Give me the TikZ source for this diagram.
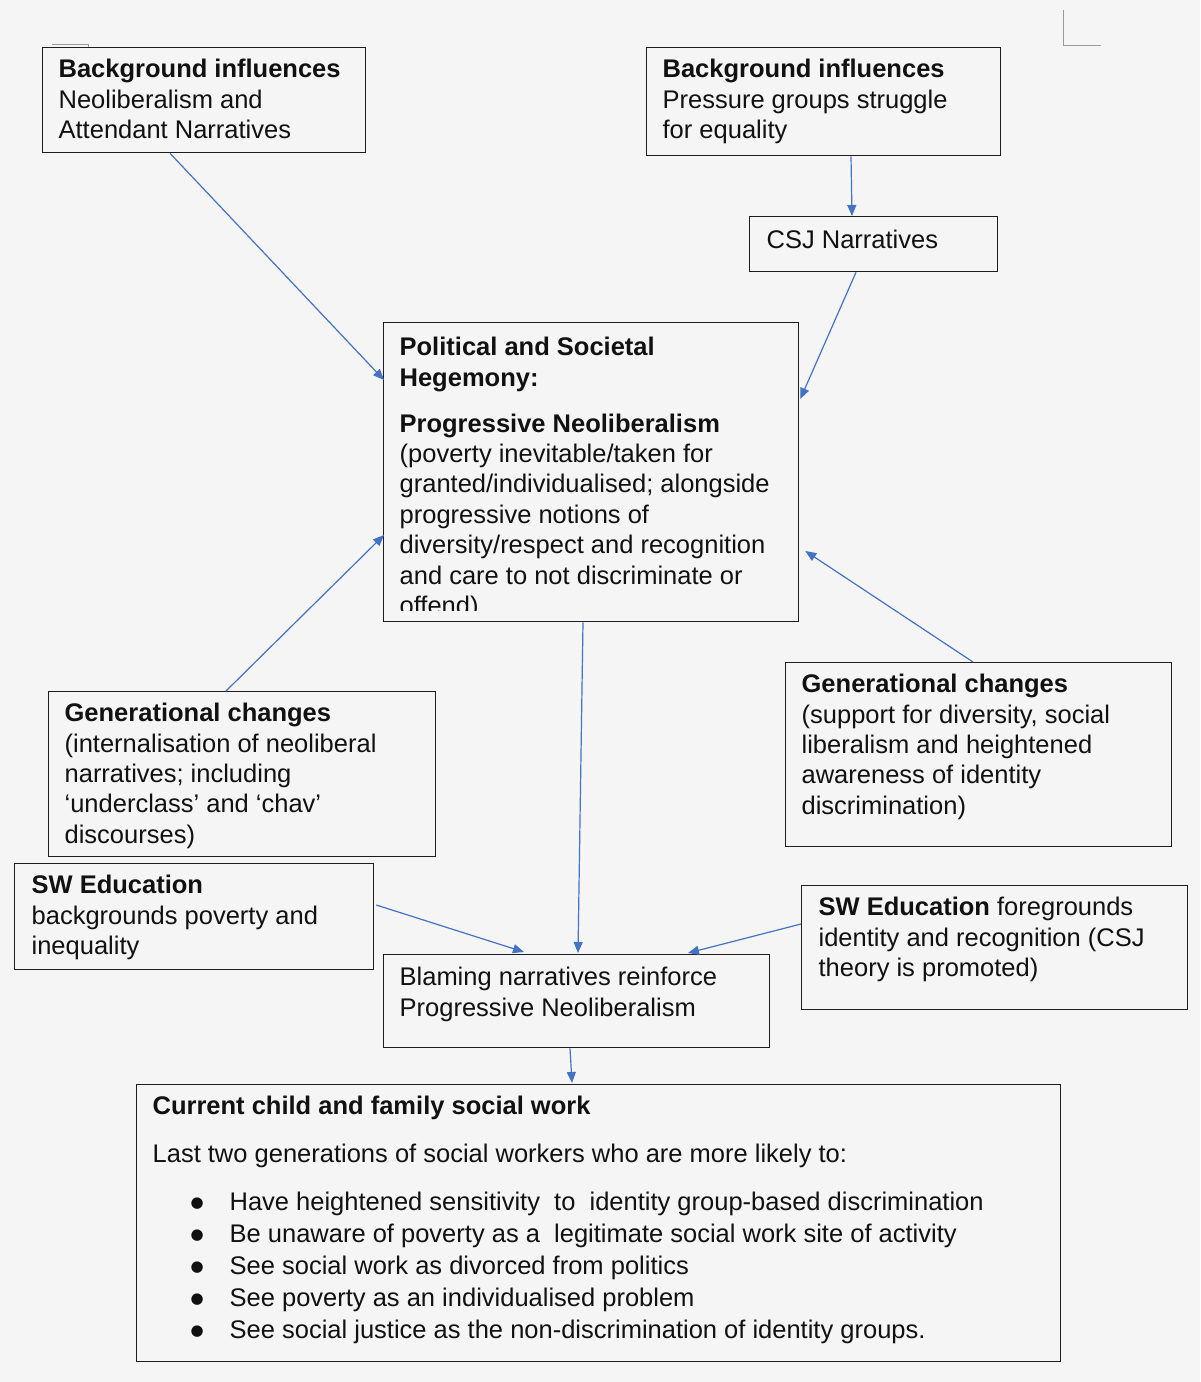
\documentclass[tikz,border=0pt]{standalone}
\usepackage{fontspec}
\setmainfont{Liberation Sans}
\newfontfamily\symfont{DejaVu Sans}
\usetikzlibrary{arrows.meta}
\definecolor{bgc}{HTML}{F5F5F5}
\definecolor{boxc}{HTML}{1E1E1E}
\definecolor{arrc}{HTML}{4472C4}
\definecolor{txtc}{HTML}{111111}
\definecolor{markc}{HTML}{9A9A9A}
\newcommand{\boxtxt}[4]{\parbox[t][#2][t]{#1}{\raggedright\vspace*{#3}\noindent\strut#4}}
\newcommand{\bul}{\hspace*{38pt}\makebox[39pt][l]{\raisebox{3pt}{\symfont\fontsize{15}{18}\selectfont ●}}}
\begin{document}
\begin{tikzpicture}[x=1pt,y=-1pt,
  box/.style={draw=boxc, line width=1.3pt, anchor=north west, inner xsep=16pt, inner ysep=0pt, text=txtc, font=\fontsize{25.5}{30.4}\selectfont},
  conn/.style={draw=arrc, line width=1.2pt, -{Triangle[length=11pt,width=9pt]}}]
\useasboundingbox (0,0) rectangle (1200,1382);
\fill[bgc] (0,0) rectangle (1200,1382);
% faint page marks
\draw[markc, line width=0.8pt] (52,44.5) -- (88,44.5) -- (88,47);
\draw[markc, line width=1pt] (1063,10) -- (1063,45) -- (1101,45);

\node[box] (bg1) at (42,47) {\boxtxt{291pt}{105pt}{8.7pt}{\textbf{Background influences}\\Neoliberalism and\\Attendant Narratives}};
\node[box] (bg2) at (646,47) {\boxtxt{322pt}{108pt}{8.7pt}{\textbf{Background influences}\\Pressure groups struggle\\for equality}};
\node[box, inner xsep=17pt] (csj) at (749,216) {\boxtxt{214pt}{55pt}{10.7pt}{CSJ Narratives}};
\node[box] (heg) at (383,322) {\boxtxt{383pt}{299pt}{11.7pt}{\textbf{Political and Societal}\\\textbf{Hegemony:}\\[15.6pt]\textbf{Progressive Neoliberalism}\\(poverty inevitable/taken for\\granted/individualised; alongside\\progressive notions of\\diversity/respect and recognition\\and care to not discriminate or\\offend)}};
\fill[bgc] (384.5,611) rectangle (796.5,620);
\node[box] (genl) at (48,691) {\boxtxt{355pt}{165pt}{8.7pt}{\textbf{Generational changes}\\(internalisation of neoliberal\\narratives; including\\‘underclass’ and ‘chav’\\discourses)}};
\node[box] (genr) at (785,662) {\boxtxt{354pt}{184pt}{8.7pt}{\textbf{Generational changes}\\(support for diversity, social\\liberalism and heightened\\awareness of identity\\discrimination)}};
\node[box, inner xsep=17pt] (swl) at (14,863) {\boxtxt{325pt}{106pt}{8.7pt}{\textbf{SW Education}\\backgrounds poverty and\\inequality}};
\node[box, inner xsep=17pt] (swr) at (801,885) {\boxtxt{352pt}{124pt}{8.7pt}{\textbf{SW Education} foregrounds\\identity and recognition (CSJ\\theory is promoted)}};
\node[box] (blame) at (383,954) {\boxtxt{354pt}{93pt}{9.7pt}{Blaming narratives reinforce\\Progressive Neoliberalism}};
\node[box] (cur) at (136,1084) {\boxtxt{892pt}{277pt}{8.7pt}{\textbf{Current child and family social work}\\[17.6pt]Last two generations of social workers who are more likely to:\\[17.6pt]\bul Have heightened sensitivity\ \ to\ \ identity group-based discrimination\\[1.6pt]\bul Be unaware of poverty as a\ \ legitimate social work site of activity\\[1.6pt]\bul See social work as divorced from politics\\[1.6pt]\bul See poverty as an individualised problem\\[1.6pt]\bul See social justice as the non-discrimination of identity groups.}};

% connectors
\draw[conn] ([xshift=128pt]bg1.south west) -- ([yshift=-58pt,xshift=1pt]heg.north west);
\draw[conn] ([xshift=205pt]bg2.south west) -- ([xshift=103pt]csj.north west);
\draw[conn] ([xshift=107pt]csj.south west) -- ([yshift=-77pt,xshift=1pt]heg.north east);
\draw[conn] ([xshift=178pt]genl.north west) -- ([yshift=-213pt,xshift=1pt]heg.north west);
\draw[conn] ([xshift=188pt]genr.north west) -- ([yshift=-229pt,xshift=6pt]heg.north east);
\draw[conn] ([xshift=200pt]heg.south west) -- ([xshift=195pt,yshift=1pt]blame.north west);
\draw[conn] ([yshift=-42pt,xshift=2pt]swl.north east) -- ([xshift=141pt,yshift=2pt]blame.north west);
\draw[conn] ([yshift=-39pt]swr.north west) -- ([xshift=305pt,yshift=1pt]blame.north west);
\draw[conn] ([xshift=187pt]blame.south west) -- ([xshift=436pt,yshift=1pt]cur.north west);
\end{tikzpicture}
\end{document}
